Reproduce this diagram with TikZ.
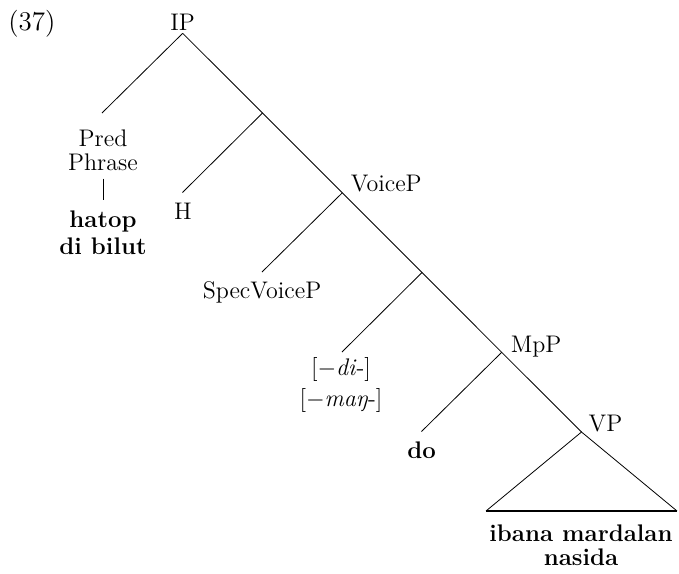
\documentclass[tikz,border=0pt,12pt]{standalone}
\usepackage{amsmath, amssymb}
\usepackage{tikz}
\usetikzlibrary{calc}

\tikzset{
	lbl/.style={inner sep=0pt, anchor=base},
	word/.style={lbl, font=\bfseries, align=center},
	cat/.style={inner sep=0pt, anchor=base west}
}

\begin{document}
\begin{tikzpicture}[x=0.5pt, y=-0.5pt, font=\fontsize{12}{14.5}\selectfont]
					\useasboundingbox (0,0) rectangle (679,573);

					% spine
					\draw
						(182.7,33.3) coordinate (ip)
						(262.5,113) coordinate (n1)
						(342.3,192.8) coordinate (voice)
						(422,272.5) coordinate (n2)
						(501.7,352.3) coordinate (mp)
						(581.5,432) coordinate (vp);

					% left daughters
					\draw
						(102,113) coordinate (pred)
						(182.5,192.5) coordinate (h)
						(262,272) coordinate (spec)
						(342,352) coordinate (affix)
						(421.5,431.5) coordinate (do)
						(486,511) coordinate (triL)
						(677,511) coordinate (triR);

					\node [cat, font=\fontsize{13.5}{16}\selectfont] (ex) at (8,31) {(37)};
					\node [lbl] (tIP) at (182.7,30) {IP};
					\node [cat] (tVoice) at (350.5,191) {VoiceP};
					\node [cat] (tMp) at (510.5,352) {MpP};
					\node [cat] (tVP) at (588.3,431) {VP};

					% multi-line nodes: base is the last line
					\node [lbl, align=center] (tPred) at (103,170) {Pred\\[-2.5pt]Phrase};
					\node [word] (tHatop) at (103,254) {hatop\\[-1.2pt]di bilut};
					\node [lbl] (tH) at (183,219) {H};
					\node [lbl] (tSpec) at (262,298) {SpecVoiceP};
					\node [lbl, align=center] (tAffix) at (341,406) {[$-$\textit{di}-]\\[1pt][$-$\textit{maŋ}-]};
					\node [word] (tDo) at (421.5,458) {do};
					\node [word] (tVPw) at (581,565.5) {ibana mardalan\\[-2.5pt]nasida};

					\draw
						(ip) -- (n1) -- (voice) -- (n2) -- (mp) -- (vp);

					\draw
						(ip) -- (pred)
						(n1) -- (h)
						(voice) -- (spec)
						(n2) -- (affix)
						(mp) -- (do);

					\draw [shorten <=4pt, shorten >=5pt]
						(tPred.south) -- (tHatop.north);

					\draw
						(triL) -- (vp) -- (triR);
					\draw [line width=0.8pt]
						(triL) -- (triR);
				\end{tikzpicture}
\end{document}
